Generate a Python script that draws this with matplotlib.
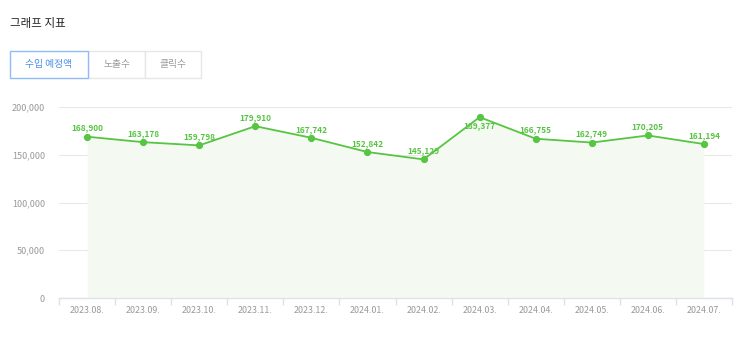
import matplotlib
matplotlib.use("Agg")
import matplotlib.pyplot as plt
from matplotlib.patches import Rectangle
from matplotlib.ticker import FuncFormatter, MultipleLocator

plt.rcParams['font.family'] = ['Noto Sans CJK KR', 'DejaVu Sans']

months = ["2023.08.", "2023.09.", "2023.10.", "2023.11.", "2023.12.", "2024.01.",
          "2024.02.", "2024.03.", "2024.04.", "2024.05.", "2024.06.", "2024.07."]
values = [168900, 163178, 159798, 179910, 167742, 152842,
          145129, 189377, 166755, 162749, 170205, 161194]
title = "그래프 지표"
tabs = ["수입 예정액", "노출수", "클릭수"]

W, H = 743, 340
fig = plt.figure(figsize=(W / 100, H / 100), dpi=100)
fig.patch.set_facecolor("white")

def fx(px):
    return px / W

def fy(py):
    return 1 - py / H

# title
fig.text(fx(10), fy(23), title, fontsize=8.3, color="#222222", va="center", ha="left")

# tab buttons
tab_x = [10, 88, 145, 201]
for i, t in enumerate(tabs):
    x0, x1 = tab_x[i], tab_x[i + 1]
    active = i == 0
    rect = Rectangle((fx(x0), fy(78)), fx(x1 - x0), (78 - 51) / H,
                     transform=fig.transFigure, facecolor="white",
                     edgecolor="#8fbcf7" if active else "#e6e6e6", lw=1.0,
                     zorder=3 if active else 2)
    fig.add_artist(rect)
    fig.text(fx((x0 + x1) / 2), fy(64.5), t, fontsize=7,
             color="#4a8fe7" if active else "#999999", ha="center", va="center")

# chart
left, right, top, bottom = 59, 732, 107, 298
ax = fig.add_axes([fx(left), fy(bottom), fx(right - left), (bottom - top) / H])
x = list(range(len(months)))
green = "#57c443"
ax.fill_between(x, values, 0, color="#f4faf1", zorder=1, lw=0)
ax.plot(x, values, color=green, lw=1.3, marker="o", ms=4.2, zorder=3)

ax.set_xlim(-0.5, len(months) - 0.5)
ax.set_ylim(0, 200000)
ax.yaxis.set_major_locator(MultipleLocator(50000))
ax.yaxis.set_major_formatter(FuncFormatter(lambda v, p: f"{int(v):,}"))
ax.grid(axis="y", color="#e8e8e8", lw=0.8, zorder=0)
ax.set_axisbelow(True)

for s in ["top", "right", "left"]:
    ax.spines[s].set_visible(False)
ax.spines["bottom"].set_color("#dde2ea")
ax.spines["bottom"].set_linewidth(1.0)

ax.set_xticks(x)
ax.set_xticklabels(months, fontsize=6.4, color="#999999")
ax.tick_params(axis="x", which="major", length=0, pad=6)
ax.set_xticks([i - 0.5 for i in range(len(months) + 1)], minor=True)
ax.tick_params(axis="x", which="minor", length=5, color="#dde2ea", width=1.0)
ax.tick_params(axis="y", length=0, labelsize=6.5, labelcolor="#999999", pad=10)

for i, v in enumerate(values):
    if v > 185000:
        ax.annotate(f"{v:,}", (i, v), xytext=(0, -3), textcoords="offset points",
                    ha="center", va="top", fontsize=6, fontweight="bold", color=green, zorder=4)
    else:
        ax.annotate(f"{v:,}", (i, v), xytext=(0, 3), textcoords="offset points",
                    ha="center", va="bottom", fontsize=6, fontweight="bold", color=green, zorder=4)

fig.savefig("out.png", dpi=100, facecolor="white")
